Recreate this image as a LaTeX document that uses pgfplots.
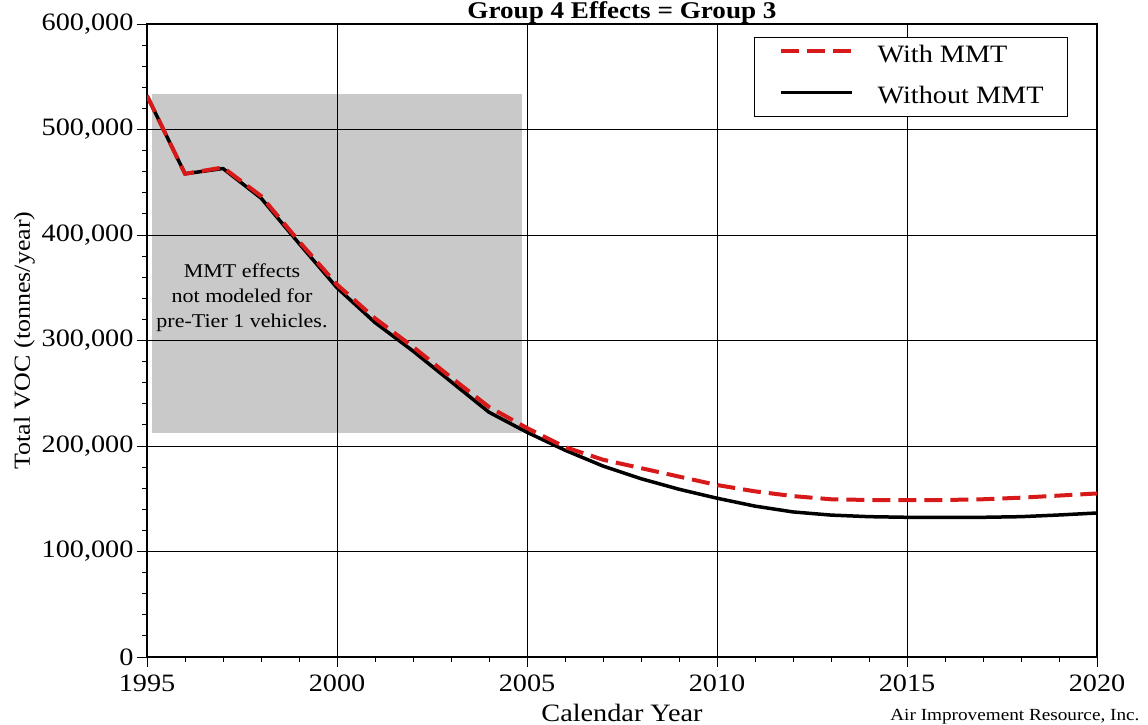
\documentclass[border=0pt]{standalone}
\usepackage{fontspec}
\setmainfont{Liberation Serif}[FakeStretch=1.13]
\usepackage{pgfplots}
\pgfplotsset{compat=1.18}
\usetikzlibrary{calc}
\definecolor{mmtred}{RGB}{215,25,25}
\definecolor{shade}{RGB}{201,201,201}
\begin{document}
\begin{tikzpicture}
\begin{axis}[
  name=ax,
  set layers,
  scale only axis,
  width=950bp, height=633bp,
  xmin=1995, xmax=2020, ymin=0, ymax=600000,
  xtick={1995,2000,...,2020},
  ytick={0,100000,...,600000},
  minor x tick num=4,
  minor y tick num=4,
  xtick pos=left, ytick pos=left,
  tick align=outside,
  major tick length=10bp, minor tick length=5bp,
  tick style={black, line width=0.8bp},
  grid=major,
  major grid style={black, line width=0.8bp},
  axis line style={black, line width=1.2bp},
  scaled y ticks=false,
  /pgf/number format/assume math mode=true,
  yticklabel={\pgfmathprintnumber[fixed,1000 sep={,}]{\tick}},
  xticklabel={\pgfmathprintnumber[fixed,1000 sep={}]{\tick}},
  ticklabel style={font=\fontsize{25bp}{30bp}\selectfont},
  xticklabel style={yshift=-4bp},
  xlabel={Calendar Year},
  ylabel={Total VOC (tonnes/year)},
  xlabel style={font=\fontsize{25bp}{30bp}\selectfont, yshift=-6bp},
  ylabel style={font=\fontsize{23bp}{28bp}\selectfont},
  title={Group 4 Effects = Group 3},
  every axis title/.style={at={(0.5,1)}, anchor=base, yshift=5.5bp, inner sep=0pt,
    font=\fontsize{24bp}{28bp}\bfseries\selectfont},
  reverse legend,
  legend cell align=left,
  legend style={at={(1,1)}, anchor=north east, xshift=-29bp, yshift=-13bp,
    draw=black, line width=0.8bp, inner xsep=24bp, inner ysep=8bp,
    row sep=19bp, column sep=24bp,
    font=\fontsize{25bp}{30bp}\selectfont,
    nodes={inner sep=0pt, text height=17bp, text depth=5bp}},
  legend image code/.code={\draw[#1] (0bp,5bp) -- (71bp,5bp);},
]
\addplot[fill=shade, draw=none, on layer=axis background, forget plot]
  coordinates {(1995.13,212300) (2004.86,212300) (2004.86,533600) (1995.13,533600)};
\node[align=center, inner sep=0pt, font=\fontsize{19.5bp}{25bp}\selectfont]
  at (axis cs:1997.5,340800) {MMT effects\\not modeled for\\pre-Tier 1 vehicles.};
\addplot[black, line width=3.5bp, line join=round] coordinates {
(1995,532000) (1996,458000) (1997,463000) (1998,435000) (1999,392000)
(2000,350000) (2001,317000) (2002,290000) (2003,261000) (2004,232000)
(2005,213000) (2006,196000) (2007,181000) (2008,169000) (2009,159000)
(2010,150500) (2011,143000) (2012,137500) (2013,134500) (2014,133000)
(2015,132400) (2016,132400) (2017,132400) (2018,133000) (2019,134600)
(2020,136500)};
\addlegendentry{Without MMT}
\addplot[mmtred, line width=4bp, dash pattern=on 18bp off 8bp] coordinates {
(1995,532000) (1996,458000) (1997,464000) (1998,437000) (1999,394000)
(2000,353000) (2001,321000) (2002,294000) (2003,265000) (2004,237000)
(2005,217000) (2006,199000) (2007,187000) (2008,179000) (2009,171000)
(2010,163000) (2011,157000) (2012,152500) (2013,149500) (2014,148800)
(2015,148800) (2016,148800) (2017,149500) (2018,151000) (2019,153000)
(2020,155000)};
\addlegendentry{With MMT}
\end{axis}
\node[anchor=base east, font=\fontsize{17bp}{20bp}\selectfont]
  at ($(ax.south east)+(46bp,-64bp)$) {Air Improvement Resource, Inc.};
\pgfresetboundingbox
\path[use as bounding box] ($(ax.south west)+(-147bp,-68bp)$) rectangle ($(ax.north east)+(51bp,24bp)$);
\end{tikzpicture}
\end{document}
